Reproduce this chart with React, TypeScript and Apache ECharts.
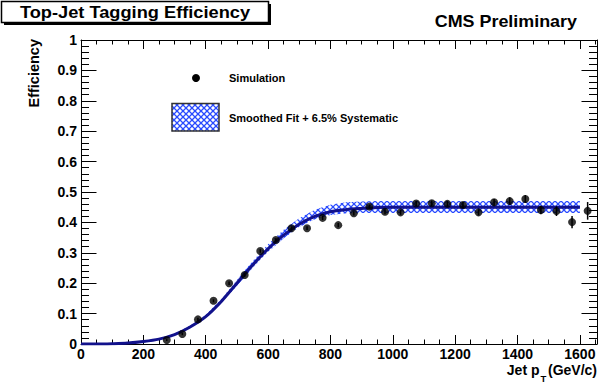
import React, { useEffect, useRef } from 'react';
import * as echarts from 'echarts';

// ---------- data ----------
const simX = [275, 325, 375, 425, 475, 525, 575, 625, 675, 725, 775, 825, 875, 925, 975, 1025, 1075, 1125, 1175, 1225, 1275, 1325, 1375, 1425, 1475, 1525, 1575, 1625];
const simY = [0.013, 0.033, 0.081, 0.142, 0.2, 0.227, 0.306, 0.342, 0.381, 0.381, 0.415, 0.391, 0.43, 0.452, 0.435, 0.433, 0.462, 0.463, 0.461, 0.457, 0.433, 0.466, 0.47, 0.477, 0.441, 0.437, 0.401, 0.438];
const simErr = [0.003, 0.004, 0.005, 0.005, 0.006, 0.006, 0.006, 0.006, 0.006, 0.006, 0.007, 0.007, 0.007, 0.007, 0.008, 0.008, 0.008, 0.009, 0.009, 0.01, 0.01, 0.011, 0.012, 0.013, 0.014, 0.016, 0.02, 0.029];

const fitX = [0, 50, 100, 150, 200, 250, 300, 350, 400, 450, 500, 550, 600, 650, 700, 750, 800, 850, 900, 950, 1000, 1050, 1100, 1150, 1200, 1250, 1300, 1350, 1400, 1450, 1500, 1550, 1600];
const fitY = [0, 0, 0.001, 0.003, 0.008, 0.016, 0.031, 0.056, 0.09, 0.14, 0.2, 0.259, 0.313, 0.358, 0.394, 0.42, 0.435, 0.442, 0.446, 0.449, 0.45, 0.45, 0.45, 0.45, 0.45, 0.45, 0.45, 0.45, 0.45, 0.45, 0.45, 0.45, 0.45];
const bandLow = [0, 0, 0.001, 0.003, 0.007, 0.015, 0.029, 0.053, 0.086, 0.134, 0.192, 0.25, 0.303, 0.348, 0.385, 0.41, 0.424, 0.43, 0.431, 0.431, 0.431, 0.431, 0.431, 0.431, 0.431, 0.431, 0.431, 0.431, 0.431, 0.431, 0.431, 0.431, 0.431];
const bandHigh = [0, 0, 0.001, 0.003, 0.009, 0.018, 0.034, 0.06, 0.096, 0.148, 0.21, 0.272, 0.328, 0.376, 0.414, 0.442, 0.458, 0.466, 0.469, 0.47, 0.47, 0.47, 0.47, 0.47, 0.47, 0.47, 0.47, 0.47, 0.47, 0.47, 0.47, 0.47, 0.47];

const xTickStep = 200;
const yTickStep = 0.1;

const FONT = '"Liberation Sans", Arial, Helvetica, sans-serif';
const HATCH = '#2a4bff';
const HATCH_STEP = 6;

// hatch lines (both diagonals) covering a box, aligned to a global grid
function hatchLines(minX: number, minY: number, maxX: number, maxY: number) {
  const out: any[] = [];
  const s = HATCH_STEP;
  const st = { stroke: HATCH, lineWidth: 1.3 };
  for (let c = Math.floor((minX - maxY) / s) * s; c <= maxX - minY; c += s) {
    out.push({ type: 'line', shape: { x1: minY + c, y1: minY, x2: maxY + c, y2: maxY }, style: st });
  }
  for (let c = Math.floor((minX + minY) / s) * s; c <= maxX + maxY; c += s) {
    out.push({ type: 'line', shape: { x1: c - minY, y1: minY, x2: c - maxY, y2: maxY }, style: st });
  }
  return out;
}

// same hatch clipped analytically to a rectangle (legend swatch)
function hatchRect(x0: number, y0: number, x1: number, y1: number) {
  const out: any[] = [];
  const s = HATCH_STEP;
  const st = { stroke: HATCH, lineWidth: 1.3 };
  for (let c = Math.floor((x0 - y1) / s) * s; c <= x1 - y0; c += s) {
    const xa = Math.max(x0, y0 + c);
    const xb = Math.min(x1, y1 + c);
    if (xb > xa) out.push({ type: 'line', shape: { x1: xa, y1: xa - c, x2: xb, y2: xb - c }, style: st, z: 102 });
  }
  for (let c = Math.floor((x0 + y0) / s) * s; c <= x1 + y1; c += s) {
    const xa = Math.max(x0, c - y1);
    const xb = Math.min(x1, c - y0);
    if (xb > xa) out.push({ type: 'line', shape: { x1: xa, y1: c - xa, x2: xb, y2: c - xb }, style: st, z: 102 });
  }
  return out;
}

function xAxisCfg(pos: string, showLabel: boolean) {
  return {
    type: 'value',
    position: pos,
    min: 0,
    max: 1655,
    interval: xTickStep,
    axisLine: { show: true, onZero: false, lineStyle: { color: '#000', width: 1 } },
    axisTick: { show: true, inside: true, length: 9, lineStyle: { color: '#000', width: 1 } },
    minorTick: { show: true, splitNumber: 4, length: 4.5, lineStyle: { color: '#000', width: 1 } },
    splitLine: { show: false },
    minorSplitLine: { show: false },
    axisLabel: {
      show: showLabel,
      margin: 3,
      color: '#000',
      fontSize: 14,
      fontWeight: 'bold',
      fontFamily: FONT,
      formatter: (v: number) => (Math.abs(v % xTickStep) < 1e-6 ? String(Math.round(v)) : ''),
    },
  };
}

function yAxisCfg(pos: string, showLabel: boolean) {
  return {
    type: 'value',
    position: pos,
    min: 0,
    max: 1,
    interval: yTickStep,
    axisLine: { show: true, onZero: false, lineStyle: { color: '#000', width: 1 } },
    axisTick: { show: true, inside: true, length: 15.5, lineStyle: { color: '#000', width: 1 } },
    minorTick: { show: true, splitNumber: 5, length: 8, lineStyle: { color: '#000', width: 1 } },
    splitLine: { show: false },
    minorSplitLine: { show: false },
    axisLabel: {
      show: showLabel,
      margin: 4,
      color: '#000',
      fontSize: 14,
      fontWeight: 'bold',
      fontFamily: FONT,
      formatter: (v: number) => {
        if (Math.abs(v) < 1e-9) return '0';
        if (Math.abs(v - 1) < 1e-9) return '1';
        return v.toFixed(1);
      },
    },
  };
}

export default function App() {
  const ref = useRef<HTMLDivElement>(null);

  useEffect(() => {
    if (!ref.current) return;
    const chart = echarts.init(ref.current, undefined, { renderer: 'svg' });

    const option: any = {
      animation: false,
      backgroundColor: '#fff',
      grid: { left: 81, right: 1, top: 40, bottom: 40 },
      xAxis: [xAxisCfg('bottom', true), xAxisCfg('top', false)],
      yAxis: [yAxisCfg('left', true), yAxisCfg('right', false)],
      graphic: [
        { type: 'rect', shape: { x: 4, y: 4, width: 267, height: 21 }, style: { fill: '#000' }, z: 100 },
        { type: 'rect', shape: { x: 1.5, y: 1.5, width: 267, height: 21 }, style: { fill: '#fff', stroke: '#000', lineWidth: 1.5 }, z: 101 },
        {
          type: 'text', x: 135, y: 12.5, scaleX: 1.14, z: 102,
          style: { text: 'Top-Jet Tagging Efficiency', font: `bold 16px ${FONT}`, fill: '#000', align: 'center', verticalAlign: 'middle', textAlign: 'center', textVerticalAlign: 'middle' },
        },
        {
          type: 'text', x: 577, y: 22, scaleX: 1.12, z: 102,
          style: { text: 'CMS Preliminary', font: `bold 16px ${FONT}`, fill: '#000', align: 'right', verticalAlign: 'middle', textAlign: 'right', textVerticalAlign: 'middle' },
        },
        {
          type: 'text', x: 33.5, y: 39, rotation: Math.PI / 2, z: 102,
          style: { text: 'Efficiency', font: `bold 14.5px ${FONT}`, fill: '#000', align: 'right', verticalAlign: 'middle', textAlign: 'right', textVerticalAlign: 'middle' },
        },
        {
          type: 'text', x: 539.5, y: 370, z: 102,
          style: { text: 'Jet p', font: `bold 14px ${FONT}`, fill: '#000', align: 'right', verticalAlign: 'middle', textAlign: 'right', textVerticalAlign: 'middle' },
        },
        {
          type: 'text', x: 540.5, y: 378.5, z: 102,
          style: { text: 'T', font: `bold 9.5px ${FONT}`, fill: '#000', align: 'left', verticalAlign: 'middle', textAlign: 'left', textVerticalAlign: 'middle' },
        },
        {
          type: 'text', x: 597, y: 370, z: 102,
          style: { text: '(GeV/c)', font: `bold 14px ${FONT}`, fill: '#000', align: 'right', verticalAlign: 'middle', textAlign: 'right', textVerticalAlign: 'middle' },
        },
        { type: 'circle', shape: { cx: 196, cy: 78, r: 4 }, style: { fill: '#000' }, z: 102 },
        {
          type: 'text', x: 229, y: 78, z: 102,
          style: { text: 'Simulation', font: `bold 11px ${FONT}`, fill: '#000', align: 'left', verticalAlign: 'middle', textAlign: 'left', textVerticalAlign: 'middle' },
        },
        ...hatchRect(172, 103.5, 219, 131),
        { type: 'rect', shape: { x: 172, y: 103.5, width: 47, height: 27.5 }, style: { fill: 'none', stroke: '#333', lineWidth: 1.5 }, z: 103 },
        {
          type: 'text', x: 229, y: 117.5, z: 102,
          style: { text: 'Smoothed Fit + 6.5% Systematic', font: `bold 11px ${FONT}`, fill: '#000', align: 'left', verticalAlign: 'middle', textAlign: 'left', textVerticalAlign: 'middle' },
        },
      ],
      series: [
        {
          type: 'custom',
          name: 'Systematic band',
          data: fitX.map((x, i) => [x, bandLow[i], bandHigh[i]]),
          encode: { x: 0, y: [1, 2] },
          renderItem: (params: any, api: any) => {
            if (params.dataIndex !== 0) return null;
            const upper = fitX.map((x, i) => api.coord([x, bandHigh[i]]));
            const lower = fitX.map((x, i) => api.coord([x, bandLow[i]])).reverse();
            const pts = upper.concat(lower);
            let minX = Infinity, minY = Infinity, maxX = -Infinity, maxY = -Infinity;
            for (const p of pts) {
              minX = Math.min(minX, p[0]); maxX = Math.max(maxX, p[0]);
              minY = Math.min(minY, p[1]); maxY = Math.max(maxY, p[1]);
            }
            return {
              type: 'group',
              clipPath: { type: 'polygon', shape: { points: pts } },
              children: hatchLines(minX, minY, maxX, maxY),
            };
          },
          silent: true,
          z: 1,
        },
        {
          type: 'line',
          name: 'Smoothed Fit',
          data: fitX.map((x, i) => [x, fitY[i]]),
          symbol: 'none',
          smooth: 0.3,
          lineStyle: { color: '#12128c', width: 3 },
          silent: true,
          z: 2,
        },
        {
          type: 'custom',
          name: 'errors',
          data: simX.map((x, i) => [x, simY[i], simErr[i]]),
          encode: { x: 0, y: 1 },
          renderItem: (params: any, api: any) => {
            const x = api.value(0);
            const y = api.value(1);
            const e = api.value(2);
            const p1 = api.coord([x, y - e]);
            const p2 = api.coord([x, y + e]);
            return {
              type: 'line',
              shape: { x1: p1[0], y1: p1[1], x2: p2[0], y2: p2[1] },
              style: { stroke: '#000', lineWidth: 1.5 },
            };
          },
          silent: true,
          z: 3,
        },
        {
          type: 'scatter',
          name: 'Simulation',
          data: simX.map((x, i) => [x, simY[i]]),
          symbol: 'circle',
          symbolSize: 8,
          itemStyle: { color: '#000' },
          clip: false,
          silent: true,
          z: 4,
        },
      ],
    };

    chart.setOption(option);
    return () => chart.dispose();
  }, []);

  return <div ref={ref} style={{ position: 'fixed', left: 0, top: 0, width: 600, height: 384 }} />;
}
